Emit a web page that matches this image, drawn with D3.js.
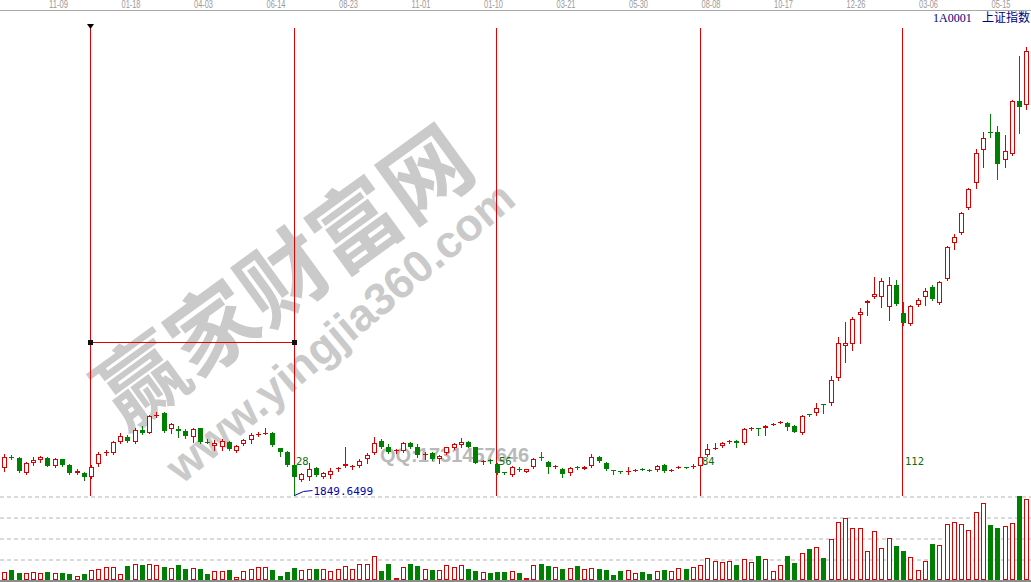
<!DOCTYPE html>
<html><head><meta charset="utf-8">
<script src="https://cdn.jsdelivr.net/npm/d3@7"></script>
<style>html,body{margin:0;padding:0;background:#fff;overflow:hidden}</style>
</head><body>
<svg id="c" width="1031" height="582"></svg>
<script>
// ---- data (weekly candles, index 0 = first measuring line) ----
const firstIndex = -12;
const opens = [
2040,2122,2112,2009,2076,2100,2112,2059,2105,2064,2009,2009,
1976,2069,2147,2147,2230,2266,2230,2313,2294,2413,
2432,2318,2318,2308,2266,2326,2228,2199,2194,2230,
2166,2214,2242,2282,2285,2294,2183,2159,2064,1957,
1980,2040,1976,1992,2035,2059,2050,2059,2105,2147,
2237,2194,2164,2166,2223,2190,2137,2147,2105,2147,
2183,2206,2230,2190,2085,2097,2069,2011,1992,2035,
2016,2047,2121,2087,2050,2033,2009,2049,2038,2057,
2119,2080,2030,2018,2016,2026,2035,2030,2028,2064,
2026,2045,2049,2050,2057,2133,2181,2199,2228,2233,
2219,2320,2325,2326,2353,2368,2361,2342,2290,2425,
2437,2496,2504,2684,2912,2927,3133,3219,3262,3262,
3190,3347,3148,3069,3205,3262,3333,3219,3390,3647,
3718,3896,4075,4310,4440,4438,4238,4281,4659,4630,5051];
const highs = [
2142,2134,2119,2087,2119,2128,2123,2114,2109,2069,2033,2016,
2064,2159,2171,2237,2290,2278,2326,2342,2420,2442,
2440,2366,2342,2318,2326,2330,2247,2242,2247,2237,
2206,2247,2290,2299,2326,2299,2187,2166,2069,2009,
2080,2047,2016,2040,2052,2192,2066,2105,2147,2261,
2247,2214,2178,2230,2230,2214,2159,2154,2135,2194,
2221,2254,2237,2194,2100,2105,2076,2016,2057,2050,
2038,2112,2159,2095,2066,2040,2047,2057,2057,2142,
2128,2087,2030,2023,2052,2038,2040,2035,2062,2071,
2035,2055,2052,2071,2130,2214,2219,2230,2240,2240,
2325,2332,2326,2347,2363,2378,2368,2347,2420,2430,
2504,2496,2698,2977,3083,3119,3183,3240,3404,3397,
3404,3383,3226,3205,3255,3326,3347,3376,3625,3711,
3868,4039,4317,4438,4567,4481,4417,4666,4980,5040,5178.19];
const lows = [
2023,2106,2016,2000,2064,2087,2057,2052,2059,2000,2000,1957,
1969,2057,2135,2142,2223,2230,2223,2285,2290,2406,
2301,2290,2266,2254,2230,2223,2221,2171,2171,2171,
2159,2206,2219,2271,2283,2201,2128,2057,1849.6499,1950,
1957,1985,1969,1969,2023,2052,2038,2052,2076,2145,
2183,2147,2152,2159,2183,2123,2105,2097,2076,2140,
2176,2194,2190,2076,2073,2080,2000,2000,1985,2021,
2011,2040,2100,2009,2040,1976,1992,2038,2033,2052,
2087,2028,2000,2007,2000,2021,2026,2021,2023,2016,
2021,2040,2040,2045,2050,2128,2178,2194,2223,2194,
2214,2313,2278,2278,2349,2363,2313,2296,2285,2413,
2420,2437,2492,2670,2798,2884,2934,3133,3255,3190,
3098,3205,3060,3062,3198,3205,3240,3212,3383,3604,
3711,3889,4039,4189,4402,4103,4189,4274,4431,4600,5000];
const closes = [
2119,2118,2023,2076,2100,2119,2059,2109,2064,2009,2023,1976,
2052,2142,2159,2228,2271,2237,2313,2290,2413,2420,
2308,2356,2308,2273,2318,2230,2223,2221,2237,2176,
2199,2242,2278,2285,2294,2206,2159,2064,1976,2000,
2033,1992,2009,2023,2043,2071,2055,2095,2135,2223,
2190,2159,2168,2219,2190,2135,2144,2105,2128,2190,
2214,2230,2194,2080,2089,2093,2009,2007,2047,2031,
2033,2105,2112,2052,2055,2000,2040,2045,2052,2119,
2095,2033,2026,2014,2021,2030,2031,2026,2057,2023,
2030,2049,2045,2055,2123,2176,2185,2223,2232,2219,
2318,2325,2321,2342,2356,2371,2337,2301,2413,2420,
2468,2493,2670,2934,2934,3105,3155,3233,3283,3376,
3347,3212,3076,3198,3240,3304,3247,3369,3618,3690,
3861,4032,4288,4395,4436,4210,4303,4659,4616,5016,5165];
const volumes = [
183,238,159,159,183,159,190,159,167,143,103,143,
238,270,302,302,135,333,381,357,381,349,
302,286,357,262,278,262,143,214,214,238,
63,214,254,317,302,238,95,190,278,238,
270,262,254,206,262,325,270,381,381,563,
214,381,48,302,381,333,270,238,238,349,
302,349,254,214,183,167,183,183,214,159,
48,349,381,333,302,262,286,333,254,278,
262,238,119,214,230,159,190,143,214,238,
214,278,262,302,349,516,452,421,444,357,
492,421,571,492,214,349,571,405,635,738,
778,524,976,1373,1468,1230,1230,683,1159,754,
992,809,690,540,230,452,857,826,1325,1373,
1325,1183,1611,1825,1309,1238,1285,1349,2000,1920,2000];
const tickIndex  = [-4,6,16,26,36,46,56,66,76,86,96,106,116,126];
const tickLabels = ["11-09","01-18","04-03","06-14","08-23","11-01","01-10","03-21","05-30","08-08","10-17","12-26","03-06","05-15"];
const markIndex  = [0,28,56,84,112];
const markLabels = ["","28","56","84","112"];
const measureLevel = 2934;
const volumeGrid = [500,1000,1500,2000];
const titleCode = "1A0001";
const titleName = "上证指数";

// ---- setup ----
const W = 1031, H = 582;
const RED = "#d80000", GREEN = "#008000", LINE = "#e00000";
const svg = d3.select("#c");
const data = opens.map((o,k)=>({i:firstIndex+k,o,h:highs[k],l:lows[k],c:closes[k],v:volumes[k]}));
const x = d3.scaleLinear().domain([0,28]).range([91,294]);
const y = d3.scaleLinear().domain([d3.min(lows), d3.max(highs)]).range([495,28]);
const yv = d3.scaleLinear().domain([0,2000]).range([580,496]);
const px = i => Math.round(x(i));
const even = v => 2*Math.floor(v/2);   // pixel snap for thin coloured rules

// ---- watermark ----
const wm = svg.append("g").attr("pointer-events","none");
wm.append("text").attr("transform","translate(280,272) rotate(-36)")
  .attr("text-anchor","middle").attr("dominant-baseline","central")
  .style("font","bold 88px 'Noto Sans CJK SC'").attr("fill","#cacaca").text("赢家财富网");
wm.append("text").attr("transform","translate(340,332) rotate(-40)")
  .attr("text-anchor","middle").attr("dominant-baseline","central")
  .style("font","bold 45px 'Liberation Sans'").attr("fill","#cacaca").text("www.yingjia360.com");
wm.append("text").attr("x",380).attr("y",462)
  .style("font","bold 20px 'Liberation Sans'").attr("fill","#b9b9b9").text("QQ:1731457646");

// ---- top date axis ----
svg.append("rect").attr("x",0).attr("y",10).attr("width",W).attr("height",1).attr("fill","#a8a8a8");
const ax = svg.append("g").attr("transform","translate(0,10)")
  .call(d3.axisTop(x).tickValues(tickIndex).tickFormat((d,k)=>tickLabels[k]).tickSize(0).tickPadding(2));
ax.select(".domain").remove();
ax.selectAll("text").attr("dx",-4).attr("fill","#9a9a9a")
  .style("font-family","'Liberation Sans Narrow','Liberation Sans',sans-serif").style("font-size","10px")
  .attr("textLength",19).attr("lengthAdjust","spacingAndGlyphs");

// ---- volume grid ----
const vg = svg.append("g")
  .call(d3.axisRight(yv).tickValues(volumeGrid).tickSize(W).tickFormat(""));
vg.select(".domain").remove();
vg.selectAll(".tick line").attr("stroke","#b4b4b4").attr("stroke-dasharray","4,3")
  .attr("transform","translate(0,0.5)");
svg.append("rect").attr("x",0).attr("y",580).attr("width",W).attr("height",2).attr("fill","#8c8c8c");

// ---- measuring lines ----
const mk = svg.append("g");
const yTop = Math.round(y(d3.max(highs))), yBot = Math.round(y(d3.min(lows)))+1;
mk.selectAll("rect.v").data(markIndex).join("rect").attr("class","v")
  .attr("x",d=>even(px(d))).attr("y",yTop).attr("width",1).attr("height",yBot-yTop).attr("fill",LINE);
const my = even(Math.round(y(measureLevel)));
const mx0 = even(px(markIndex[0])), mx1 = even(px(markIndex[1]));
mk.append("rect").attr("x",mx0).attr("y",my).attr("width",mx1-mx0+1).attr("height",1).attr("fill",LINE);
mk.selectAll("rect.sq").data([mx0,mx1]).join("rect").attr("class","sq")
  .attr("x",d=>d-2).attr("y",my-2).attr("width",5).attr("height",5).attr("fill","#111");
const t0 = mx0+0.5;
svg.append("path").attr("d",`M${t0-3.5},${yTop-4}L${t0+3.5},${yTop-4}L${t0},${yTop+1}Z`).attr("fill","#000");

// ---- candles ----
const cg = svg.append("g");
const isUp = d => d.c >= d.o;
const cs = cg.selectAll("g.k").data(data).join("g").attr("class","k");
cs.append("line")
  .attr("x1",d=>px(d.i)+0.5).attr("x2",d=>px(d.i)+0.5)
  .attr("y1",d=>Math.round(y(d.h))).attr("y2",d=>Math.round(y(d.l))+1)
  .attr("stroke",d=>isUp(d)?RED:GREEN);
cs.each(function(d){
  const g = d3.select(this);
  const cx = px(d.i);
  const top = Math.round(y(Math.max(d.o,d.c))), bot = Math.round(y(Math.min(d.o,d.c)));
  const col = isUp(d)?RED:GREEN;
  if (bot - top < 2) {
    g.append("line").attr("x1",cx-2).attr("x2",cx+3).attr("y1",top+0.5).attr("y2",top+0.5).attr("stroke",col);
  } else if (isUp(d)) {
    g.append("rect").attr("x",cx-1.5).attr("y",top+0.5).attr("width",4).attr("height",bot-top-1)
      .attr("fill","#fff").attr("stroke",col);
  } else {
    g.append("rect").attr("x",cx-2).attr("y",top).attr("width",5).attr("height",bot-top).attr("fill",col);
  }
});

// ---- volume bars ----
const vb = svg.append("g");
vb.selectAll("rect").data(data).join("rect")
  .attr("x",d=>isUp(d)?px(d.i)-1.5:px(d.i)-2)
  .attr("y",d=>{const t=Math.round(yv(d.v)); return isUp(d)?t+0.5:t;})
  .attr("width",d=>isUp(d)?4:5)
  .attr("height",d=>{const t=Math.round(yv(d.v)); return isUp(d)?Math.max(0.5,579-t):580-t;})
  .attr("fill",d=>isUp(d)?"#fff":GREEN)
  .attr("stroke",d=>isUp(d)?RED:"none");

// ---- labels ----
svg.selectAll("text.mk").data(markIndex.slice(1)).join("text").attr("class","mk")
  .attr("x",d=>px(d)+2).attr("y",465).attr("fill","#0b6e0b")
  .style("font","10.5px 'DejaVu Sans Mono'").text((d,k)=>markLabels[k+1]);

const li = d3.minIndex(lows), lx = px(data[li].i)+0.5, ly = Math.round(y(lows[li]))+0.5;
svg.append("polyline").attr("points",`${lx},${ly} ${lx+9},${ly-4} ${lx+18},${ly-5}`)
  .attr("fill","none").attr("stroke","#0000c0");
svg.append("text").attr("x",lx+19).attr("y",ly-1).attr("fill","#0000b0")
  .style("font","11px 'DejaVu Sans Mono'").text(d3.format(".4f")(lows[li]));

const tt = svg.append("text").attr("y",22).attr("fill","#000080");
tt.append("tspan").attr("x",933).style("font","12px 'Liberation Serif'").text(titleCode);
tt.append("tspan").attr("x",982).style("font","12px 'Noto Sans CJK SC'").text(titleName);
</script>
</body></html>
